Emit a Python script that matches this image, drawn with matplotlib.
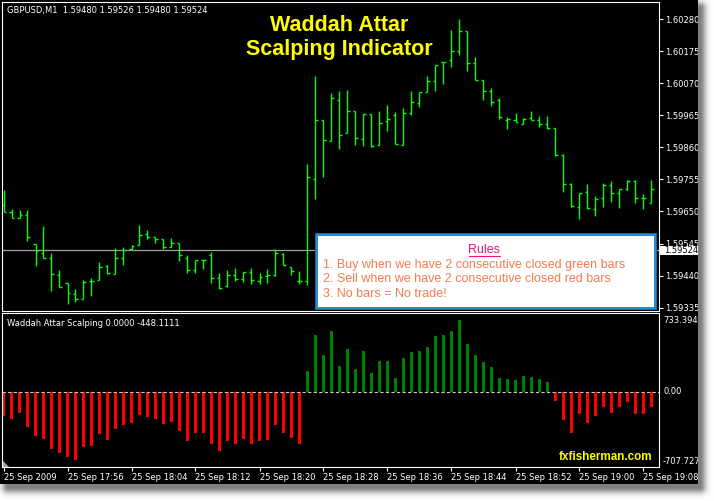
import numpy as np
import matplotlib
matplotlib.use("Agg")
import matplotlib.pyplot as plt
from matplotlib.patches import Rectangle, Polygon

W, H = 714, 501

# ---------------- data ----------------
opens = [1.59671, 1.59647, 1.59628, 1.59639, 1.59543, 1.59515, 1.59497, 1.59441, 1.59415, 1.59379,
         1.59363, 1.59421, 1.59425, 1.59471, 1.59444, 1.59497, 1.59526, 1.59539, 1.59575, 1.59566,
         1.59559, 1.59535, 1.59546, 1.59497, 1.59458, 1.59490, 1.59507, 1.59431, 1.59405, 1.59441,
         1.59429, 1.59452, 1.59422, 1.59439, 1.59441, 1.59511, 1.59467, 1.59422, 1.59422, 1.59757,
         1.59949, 1.59881, 1.60015, 1.59906, 1.59979, 1.59886, 1.59968, 1.59869, 1.59946, 1.59965,
         1.59869, 1.59971, 1.60004, 1.60041, 1.60077, 1.60138, 1.60146, 1.60174, 1.60241, 1.60136,
         1.60079, 1.60044, 1.60015, 1.59949, 1.59948, 1.59937, 1.59955, 1.59948, 1.59935, 1.59922,
         1.59834, 1.59740, 1.59665, 1.59713, 1.59657, 1.59693, 1.59738, 1.59710, 1.59723, 1.59750,
         1.59695, 1.59677]
highs = [1.59720, 1.59657, 1.59655, 1.59655, 1.59543, 1.59602, 1.59513, 1.59458, 1.59415, 1.59396,
         1.59426, 1.59432, 1.59485, 1.59474, 1.59530, 1.59533, 1.59540, 1.59606, 1.59588, 1.59567,
         1.59559, 1.59562, 1.59546, 1.59507, 1.59490, 1.59490, 1.59518, 1.59448, 1.59458, 1.59464,
         1.59453, 1.59464, 1.59448, 1.59461, 1.59527, 1.59513, 1.59467, 1.59456, 1.59805, 1.60093,
         1.59949, 1.60039, 1.60044, 1.60048, 1.59979, 1.59968, 1.59968, 1.59979, 1.59999, 1.59977,
         1.59989, 1.60044, 1.60040, 1.60093, 1.60129, 1.60138, 1.60244, 1.60279, 1.60241, 1.60155,
         1.60079, 1.60053, 1.60020, 1.59958, 1.59972, 1.59955, 1.59979, 1.59963, 1.59963, 1.59922,
         1.59838, 1.59742, 1.59711, 1.59741, 1.59702, 1.59743, 1.59749, 1.59723, 1.59753, 1.59753,
         1.59707, 1.59753]
lows = [1.59647, 1.59628, 1.59628, 1.59554, 1.59473, 1.59499, 1.59391, 1.59404, 1.59348, 1.59355,
        1.59363, 1.59374, 1.59425, 1.59444, 1.59444, 1.59476, 1.59524, 1.59539, 1.59559, 1.59546,
        1.59528, 1.59533, 1.59489, 1.59448, 1.59448, 1.59461, 1.59417, 1.59397, 1.59404, 1.59422,
        1.59420, 1.59413, 1.59414, 1.59417, 1.59440, 1.59476, 1.59443, 1.59413, 1.59410, 1.59692,
        1.59764, 1.59881, 1.59855, 1.59906, 1.59868, 1.59865, 1.59860, 1.59869, 1.59914, 1.59871,
        1.59867, 1.59965, 1.59993, 1.60041, 1.60043, 1.60068, 1.60122, 1.60162, 1.60109, 1.60079,
        1.60016, 1.59996, 1.59952, 1.59921, 1.59942, 1.59937, 1.59948, 1.59928, 1.59920, 1.59833,
        1.59715, 1.59666, 1.59624, 1.59659, 1.59636, 1.59666, 1.59682, 1.59662, 1.59719, 1.59679,
        1.59659, 1.59677]
closes = [1.59647, 1.59628, 1.59639, 1.59566, 1.59521, 1.59499, 1.59444, 1.59404, 1.59382, 1.59363,
          1.59419, 1.59421, 1.59467, 1.59448, 1.59497, 1.59524, 1.59537, 1.59572, 1.59566, 1.59559,
          1.59535, 1.59546, 1.59507, 1.59458, 1.59490, 1.59490, 1.59431, 1.59401, 1.59441, 1.59429,
          1.59452, 1.59426, 1.59435, 1.59441, 1.59514, 1.59476, 1.59456, 1.59422, 1.59762, 1.59949,
          1.59884, 1.60020, 1.59899, 1.59979, 1.59890, 1.59968, 1.59865, 1.59939, 1.59954, 1.59871,
          1.59971, 1.60007, 1.60040, 1.60077, 1.60129, 1.60138, 1.60174, 1.60241, 1.60136, 1.60079,
          1.60044, 1.60007, 1.59958, 1.59952, 1.59942, 1.59953, 1.59948, 1.59935, 1.59922, 1.59834,
          1.59739, 1.59667, 1.59711, 1.59660, 1.59690, 1.59738, 1.59710, 1.59723, 1.59749, 1.59693,
          1.59693, 1.59724]

scalping = [-231, -256, -200, -331, -419, -444, -538, -575, -613, -641,
            -519, -513, -400, -456, -350, -313, -294, -219, -238, -256,
            -306, -288, -369, -463, -388, -388, -491, -556, -463, -491,
            -444, -494, -463, -453, -313, -388, -438, -491,
            191, 528, 341, 566, 238, 397, 209, 378, 172, 284,
            284, 125, 313, 369, 378, 416, 519, 528, 566, 669,
            444, 341, 275, 228, 125, 116, 106, 144, 134, 116, 88,
            -88, -266, -388, -209, -294, -228, -144, -200, -144, -97,
            -209, -209, -144]

time_labels = ["25 Sep 2009", "25 Sep 17:56", "25 Sep 18:04", "25 Sep 18:12", "25 Sep 18:20",
               "25 Sep 18:28", "25 Sep 18:36", "25 Sep 18:44", "25 Sep 18:52", "25 Sep 19:00",
               "25 Sep 19:08"]
price_ticks = [1.60280, 1.60175, 1.60070, 1.59965, 1.59860, 1.59755, 1.59650, 1.59545, 1.59440, 1.59335]
bid_price = 1.59524
ind_max, ind_min = 733.3944, -707.727
header = "GBPUSD,M1  1.59480 1.59526 1.59480 1.59524"
ind_title = "Waddah Attar Scalping 0.0000 -448.1111"
title_lines = ["Waddah Attar", "Scalping Indicator"]
rules_title = "Rules"
rules = ["1. Buy when we have 2 consecutive closed green bars",
         "2. Sell when we have 2 consecutive closed red bars",
         "3. No bars = No trade!"]
watermark = "fxfisherman.com"

# ---------------- figure ----------------
fig = plt.figure(figsize=(W / 100, H / 100), dpi=100, facecolor="white")


def px_axes(x0, y0, x1, y1):
    return [x0 / W, 1 - y1 / H, (x1 - x0) / W, (y1 - y0) / H]


bg = fig.add_axes([0, 0, 1, 1], zorder=-5)
bg.set_xlim(0, W)
bg.set_ylim(H, 0)
bg.axis("off")
bg.add_patch(Rectangle((0, 0), 698, 484, facecolor="black", edgecolor="none"))

FONT = "DejaVu Sans"
FS = 6.0
n = len(opens)
xs = np.arange(n)
XL = (-0.15, 81.875)
GREEN = "#00FF00"
LW = 1.0

# price panel
ax = fig.add_axes(px_axes(2.3, 2.3, 658.5, 311), zorder=1)
ax.set_facecolor("black")
ax.axhline(bid_price, color="#A0A0A0", lw=0.9, zorder=1)
ax.vlines(xs, lows, highs, colors=GREEN, lw=LW, zorder=2)
ax.hlines(opens, xs - 0.36, xs, colors=GREEN, lw=LW, zorder=2)
ax.hlines(closes, xs, xs + 0.36, colors=GREEN, lw=LW, zorder=2)
ax.set_xlim(*XL)
ax.set_ylim(1.593243, 1.603347)
ax.yaxis.tick_right()
ax.set_yticks(price_ticks)
ax.set_yticklabels([f"{p:.5f}" for p in price_ticks], family=FONT)
ax.tick_params(axis="y", colors="white", length=3, width=0.8, pad=2, labelsize=FS)
ax.tick_params(axis="x", bottom=False, labelbottom=False)

# indicator panel
ax2 = fig.add_axes(px_axes(2.3, 313.3, 658.5, 467), zorder=1)
ax2.set_facecolor("black")
cols = ["#008000" if v > 0 else "#FF0000" for v in scalping]
ax2.bar(xs, scalping, width=0.4, color=cols, zorder=2)
ax2.axhline(0, color="#C8C8C8", lw=0.8, ls=(0, (3, 2)), zorder=3)
ax2.set_xlim(*XL)
ax2.set_ylim(ind_min, ind_max)
ax2.set_yticks([])
ax2.set_xticks(xs[::8])
ax2.set_xticklabels(time_labels, family=FONT, ha="left")
ax2.tick_params(axis="x", colors="white", length=3, width=0.8, pad=1.5, labelsize=FS)

for a in (ax, ax2):
    for s in a.spines.values():
        s.set_color("white")
        s.set_linewidth(0.8)

# foreground overlay in pixel coordinates
fg = fig.add_axes([0, 0, 1, 1], zorder=10)
fg.set_facecolor("none")
fg.axis("off")

fg.text(7, 10.7, header, color="white", fontsize=FS, family=FONT, va="center", ha="left")
fg.text(339, 25, title_lines[0], color="#FFFF00", fontsize=15.5, fontweight="bold",
        family="Liberation Sans", ha="center", va="center")
fg.text(339, 49, title_lines[1], color="#FFFF00", fontsize=15.5, fontweight="bold",
        family="Liberation Sans", ha="center", va="center")
fg.text(7, 324, ind_title, color="white", fontsize=FS, family=FONT, va="center", ha="left")
fg.text(652, 456.7, watermark, color="#FFFF00", fontsize=8.4, fontweight="bold",
        family="Liberation Sans", ha="right", va="center")

# indicator scale labels
fg.text(663, 320.7, f"{ind_max:.4f}", color="white", fontsize=FS, family=FONT, va="center")
fg.text(663, 391.5, "0.00", color="white", fontsize=FS, family=FONT, va="center")
fg.text(663, 461.7, f"{ind_min:.3f}", color="white", fontsize=FS, family=FONT, va="center")

# bid price label
fg.add_patch(Rectangle((660, 246.0), 40, 9.0, facecolor="white", edgecolor="none"))
fg.text(664, 250.8, f"{bid_price:.5f}", color="black", fontsize=FS, family=FONT, va="center")

# rules box
fg.add_patch(Rectangle((315, 233.3), 342.3, 76.7, facecolor="#1468A8", edgecolor="none"))
fg.add_patch(Rectangle((316, 234.3), 340.3, 74.7, facecolor="#2C8BD0", edgecolor="none"))
fg.add_patch(Rectangle((318, 236.3), 336.3, 70.7, facecolor="white", edgecolor="none"))
fg.text(484.3, 249.5, rules_title, color="#E8157F", fontsize=9, family="Liberation Sans",
        ha="center", va="center")
fg.plot([469.3, 500], [255.5, 255.5], color="#E8157F", lw=0.8)
for i, line in enumerate(rules):
    fg.text(322.7, 265 + i * 14.5, line, color="#F27B4F", fontsize=9, family="Liberation Sans",
            ha="left", va="center")

# small marker at bottom-left of indicator window
fg.add_patch(Polygon([[3, 461], [3, 467], [9, 467]], closed=True, facecolor="#A0A8B0",
                     edgecolor="none"))

# drop shadow (covers anything spilling past the black frame)
yy, xx = np.mgrid[0:H, 0:W] + 0.5
dx = np.maximum(np.maximum(8 - xx, 0), xx - 700)
dy = np.maximum(np.maximum(8 - yy, 0), yy - 487)
d = np.hypot(dx, dy)
shade = 0.5 * np.exp(-(d / 6.0) ** 2)
val = 1 - shade
img = np.dstack([val, val, val, ((xx > 698) | (yy > 484)).astype(float)])
fg.imshow(img, extent=(0, W, H, 0), zorder=50, interpolation="nearest", aspect="auto")
fg.set_xlim(0, W)
fg.set_ylim(H, 0)

fig.savefig("out.png", dpi=100, facecolor="white")
